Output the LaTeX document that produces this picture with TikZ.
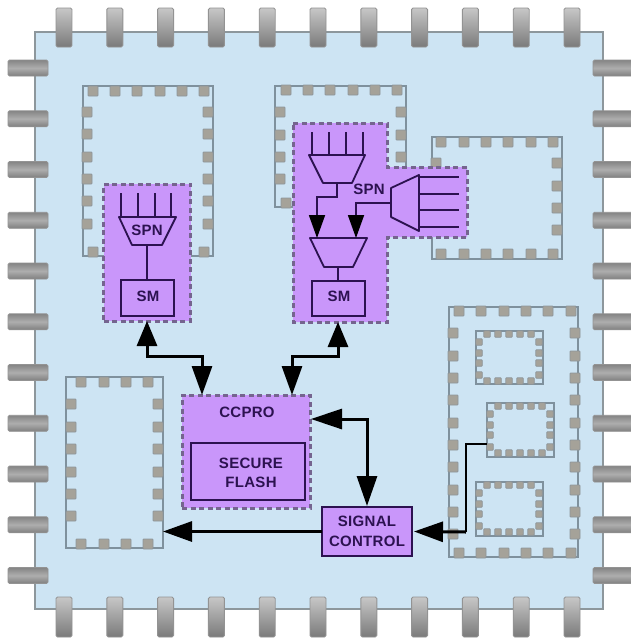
\documentclass[tikz,border=0pt]{standalone}
\usepackage{fontspec}
\setmainfont{Liberation Sans}
\newfontfamily\lblfont[LetterSpace=2,BoldFont={Liberation Sans Bold}]{Liberation Sans}
\usetikzlibrary{arrows.meta,calc}
\definecolor{bodyfill}{HTML}{CDE4F3}
\definecolor{bodyline}{HTML}{8D979C}
\definecolor{blockline}{HTML}{7F919D}
\definecolor{padfill}{HTML}{A5A299}
\definecolor{padline}{HTML}{8E9599}
\definecolor{purp}{HTML}{C996FA}
\definecolor{purpdash}{HTML}{75648F}
\definecolor{purpline}{HTML}{2C1250}
\tikzset{
  pin/.style={draw=gray!85,line width=.9pt,rounded corners=1.5pt},
  vpin/.style={pin,top color=black!22,bottom color=black!52},
  hpin/.style={pin,top color=black!48,bottom color=black!50,middle color=black!32},
  block/.style={draw=blockline,line width=1.4pt,inner sep=0pt,outer sep=0pt},
  pad/.style={fill=padfill,draw=padline,line width=.8pt,rounded corners=.8pt},
  chip/.style={draw=purpdash,fill=purp,line width=3pt,dash pattern=on 5pt off 3.5pt,inner sep=0pt,outer sep=0pt},
  solidbox/.style={draw=purpline,fill=purp,line width=2pt,inner sep=0pt,outer sep=0pt},
  wire/.style={draw=purpline,line width=1.8pt},
  muxs/.style={draw=purpline,line width=1.8pt,fill=purp,line join=round},
  lbl/.style={text=purpline,inner sep=0pt,align=center,font=\lblfont\bfseries\fontsize{15}{20}\selectfont},
  lbltight/.style={lbl,font=\lblfont\bfseries\fontsize{15}{18.5}\selectfont},
  bus/.style={draw=black,line width=3pt},
  tipend/.style={-{Triangle[length=29pt,width=20pt]}},
  tipboth/.style={{Triangle[length=25pt,width=20pt]}-{Triangle[length=29pt,width=20pt]}},
  sig/.style={draw=black,line width=2.6pt}
}
% #1 size, #2 x list, #3 y list
\newcommand{\padgrid}[3]{\foreach \px in {#2}{\foreach \py in {#3}{
  \path[pad] (\px-#1/2,\py-#1/2) rectangle (\px+#1/2,\py+#1/2);}}}
\newcommand{\subpads}[2]{% x offset, y offset relative to sub block origin
  \padgrid{6.5}{#1+11,#1+22,#1+33,#1+44,#1+55}{#2+3,#2+50}
  \padgrid{6.5}{#1+3,#1+63}{#2+11,#2+22,#2+32,#2+44}}
\begin{document}
\begin{tikzpicture}[x=1pt,y=-1pt]
\useasboundingbox (0,0) rectangle (631,638);
\fill[white] (0,0) rectangle (631,638);
% package body
\node[draw=bodyline,fill=bodyfill,line width=1.8pt,inner sep=0pt,minimum width=568pt,minimum height=577pt] (body) at (319,320.5) {};
% pins
\foreach \i in {0,...,10}{
  \pgfmathsetmacro{\cx}{64+50.8*\i}
  \path[vpin] (\cx-8,8) rectangle (\cx+8,47);
  \path[vpin] (\cx-8,597) rectangle (\cx+8,637);
  \pgfmathsetmacro{\cy}{68+50.75*\i}
  \path[hpin] (8,\cy-8) rectangle (48,\cy+8);
  \path[hpin] (593,\cy-8) rectangle (634,\cy+8);
}
% grey blocks
\node[block,minimum width=130pt,minimum height=170pt] (blockA) at (148,171) {};
\padgrid{10}{93,115,137,160,182,204}{91,252}
\padgrid{10}{87,208}{112,134,157,179,201,224}
\node[block,minimum width=131pt,minimum height=121pt] (blockB) at (340.5,146.5) {};
\padgrid{10}{286,308,330,353,375,397}{90}
\padgrid{10}{286}{203}
\padgrid{10}{280,401}{112,135,157,179}
\node[block,minimum width=130pt,minimum height=122pt] (blockC) at (497,198) {};
\padgrid{10}{441,464,486,508,531,553}{142,254}
\padgrid{10}{436,557}{163,186,208,230}
\node[block,minimum width=129pt,minimum height=250pt] (blockD) at (513.5,432) {};
\padgrid{10}{459,481,504,526,548,571}{311,553}
\padgrid{10}{453,575}{333,356,378,400,423,445,467,490,512,534}
\node[block,minimum width=67pt,minimum height=53pt] (subA) at (509.5,357.5) {};
\subpads{476}{331}
\node[block,minimum width=67pt,minimum height=54pt] (subB) at (520.5,430) {};
\subpads{487}{403}
\node[block,minimum width=67pt,minimum height=54pt] (subC) at (509.5,509) {};
\subpads{476}{482}
\node[block,minimum width=97pt,minimum height=171pt] (blockE) at (114.5,462.5) {};
\padgrid{10}{81,104,126,148}{382,544}
\padgrid{10}{71,158}{404,427,449,472,494,516}
% left SPN chip
\node[chip,minimum width=87pt,minimum height=137pt] (chipL) at (147,252.5) {};
\node[solidbox,minimum width=53pt,minimum height=36pt] (smL) at (147.5,298) {};
\node[lbl] (smLt) at (148,296.5) {SM};
\coordinate (muxLout) at (147,245);
\foreach \x in {121,138,155,171}{\draw[wire] (\x,193) -- (\x,217);}
\path[muxs] (119,217) -- (176,217) -- (162,245) -- (132,245) -- cycle;
\node[lbl] (spnL) at (147,230) {SPN};
\draw[wire] (muxLout) -- (smL.north -| muxLout);
% right SPN chip
\path[chip] (293,123) coordinate (chipR) -- (387,123) -- (387,167) -- (467,167) -- (467,237) -- (387,237) -- (387,322) coordinate (chipRs) -- (338,322) coordinate (chipRb) -- (293,322) -- cycle;
\node[solidbox,minimum width=53pt,minimum height=35pt] (smR) at (338.5,298.5) {};
\node[lbl] (smRt) at (339,296.5) {SM};
\foreach \x in {312,329,346,363}{\draw[wire] (\x,132) -- (\x,155);}
\path[muxs] (309,155) -- (365,155) -- (352,183) -- (323,183) -- cycle;
\path[muxs] (310,238) -- (367,238) -- (353,267) -- (324,267) -- cycle;
\path[muxs] (419,175) -- (419,231) -- (391,217) -- (391,188) -- cycle;
\foreach \y in {177,194,210,227}{\draw[wire] (419,\y) -- (459,\y);}
\coordinate (muxUout) at (337,183);
\coordinate (muxUbend) at (337,197);
\coordinate (muxDinA) at (317,238);
\coordinate (muxRout) at (391,203);
\coordinate (muxDinB) at (356,238);
\coordinate (muxDout) at (338,267);
\draw[wire,line width=1.8pt,-{Triangle[length=23pt,width=16pt,color=black,fill=black]}] (muxUout) -- (muxUbend) -| (muxDinA);
\draw[wire,line width=1.8pt,-{Triangle[length=23pt,width=16pt,color=black,fill=black]}] (muxRout) -| (muxDinB);
\draw[wire] (muxDout) -- (smR.north -| muxDout);
\node[lbl] (spnR) at (369,189) {SPN};
% CCPRO
\node[chip,minimum width=128pt,minimum height=113pt] (ccpro) at (246,451.5) {};
\node[lbl] (ccprot) at (247,412) {CCPRO};
\node[solidbox,minimum width=114pt,minimum height=57pt] (flash) at (248,471.5) {};
\node[lbltight] (flasht) at (251,473) {SECURE\\FLASH};
% signal control
\node[solidbox,minimum width=90pt,minimum height=49pt,lbl,text=purpline] (signal) at (367,531.5) {SIGNAL\\CONTROL};
% buses
\coordinate (busL) at (147,356);
\coordinate (busR) at (338,356);
\coordinate (ccA) at ($(ccpro.north west)+(20,0)$);
\coordinate (ccB) at ($(ccpro.north west)+(110,0)$);
\coordinate (ccC) at ($(ccpro.north east)+(1,24)$);
\coordinate (sgT) at (367,419);
\coordinate (dBendA) at (466,532);
\coordinate (dBendB) at (466,444);
\draw[bus,tipboth] (chipL.south) -- (busL) -| (ccA);
\draw[bus,tipboth] (chipRb) -- (busR) -| (ccB);
\draw[bus,{Triangle[length=31pt,width=20pt]}-{Triangle[length=30pt,width=20pt]}] (ccC) -- (sgT) -- ($(signal.north)+(0,-1)$);
\draw[bus,tipend] (signal.west) -- (blockE.east |- signal.west);
\draw[sig,line join=miter] (subB.west |- dBendB) -- (dBendB) -- (dBendA);
\draw[bus,tipend] (dBendA) -- ($(signal.east)+(2,0)$);
\end{tikzpicture}
\end{document}
